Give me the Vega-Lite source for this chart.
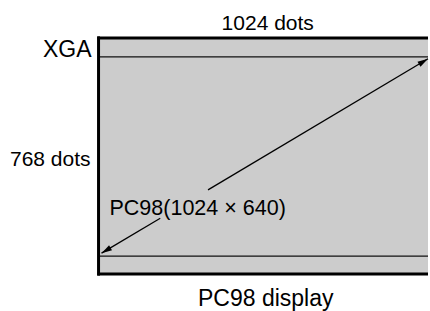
{
  "$schema": "https://vega.github.io/schema/vega-lite/v6.json",
  "autosize": {"type": "fit", "contains": "padding"},
  "width": 430,
  "height": 311,
  "padding": 0,
  "background": "white",
  "config": {"view": {"stroke": null}},
  "datasets": {
    "panel": [{"x": 99, "x2": 430, "y": 38, "y2": 275}],
    "borders": [
      {"part": "left", "x": 99, "x2": 99, "y": 36.5, "y2": 276.5},
      {"part": "top", "x": 98, "x2": 430, "y": 38, "y2": 38},
      {"part": "bottom", "x": 98, "x2": 430, "y": 275, "y2": 275}
    ],
    "inner": [
      {"part": "pc98 top", "x": 100, "x2": 430, "y": 57, "y2": 57},
      {"part": "pc98 bottom", "x": 100, "x2": 430, "y": 257, "y2": 257}
    ],
    "diag": [
      {"seg": "lower", "x": 102, "x2": 161, "y": 254, "y2": 219},
      {"seg": "upper", "x": 209, "x2": 430, "y": 190.5, "y2": 59}
    ],
    "heads": [
      {"end": "upper", "x": 430, "y": 59, "angle": 59.3},
      {"end": "lower", "x": 102, "y": 254, "angle": 239.3}
    ],
    "labels": [
      {"text": "XGA", "x": 92, "y": 57, "pos": "right", "big": 1},
      {"text": "768 dots", "x": 91, "y": 167, "pos": "right", "big": 0},
      {"text": "1024 dots", "x": 269, "y": 30, "pos": "center", "big": 0},
      {"text": "PC98 display", "x": 267, "y": 307, "pos": "center", "big": 1},
      {"text": "PC98(1024 × 640)", "x": 110, "y": 216, "pos": "left", "big": 0}
    ]
  },
  "encoding": {
    "x": {"field": "x", "type": "quantitative", "scale": {"domain": [0, 430], "nice": false, "zero": false}, "axis": null},
    "y": {"field": "y", "type": "quantitative", "scale": {"domain": [0, 311], "nice": false, "zero": false, "reverse": true}, "axis": null}
  },
  "layer": [
    {
      "data": {"name": "panel"},
      "mark": {"type": "rect", "fill": "#cccccc", "stroke": null},
      "encoding": {"x2": {"field": "x2"}, "y2": {"field": "y2"}}
    },
    {
      "data": {"name": "inner"},
      "mark": {"type": "rule", "color": "#111111", "strokeWidth": 1.3},
      "encoding": {"x2": {"field": "x2"}, "y2": {"field": "y2"}}
    },
    {
      "data": {"name": "borders"},
      "mark": {"type": "rule", "color": "#000000", "strokeWidth": 3},
      "encoding": {"x2": {"field": "x2"}, "y2": {"field": "y2"}}
    },
    {
      "data": {"name": "diag"},
      "mark": {"type": "rule", "color": "#000000", "strokeWidth": 1.3},
      "encoding": {"x2": {"field": "x2"}, "y2": {"field": "y2"}}
    },
    {
      "data": {"name": "heads"},
      "mark": {"type": "point", "shape": "M0,0L0.55,2L-0.55,2Z", "filled": true, "color": "#000000", "opacity": 1, "size": 110, "strokeWidth": 0},
      "encoding": {"angle": {"field": "angle", "type": "quantitative", "scale": null}}
    },
    {
      "data": {"name": "labels"},
      "transform": [{"filter": "datum.pos == 'right' && datum.big == 1"}],
      "mark": {"type": "text", "align": "right", "baseline": "alphabetic", "font": "Liberation Sans", "fontSize": 23, "color": "#000000"},
      "encoding": {"text": {"field": "text"}}
    },
    {
      "data": {"name": "labels"},
      "transform": [{"filter": "datum.pos == 'right' && datum.big == 0"}],
      "mark": {"type": "text", "align": "right", "baseline": "alphabetic", "font": "Liberation Sans", "fontSize": 21, "color": "#000000"},
      "encoding": {"text": {"field": "text"}}
    },
    {
      "data": {"name": "labels"},
      "transform": [{"filter": "datum.pos == 'center' && datum.big == 0"}],
      "mark": {"type": "text", "align": "center", "baseline": "alphabetic", "font": "Liberation Sans", "fontSize": 21, "color": "#000000"},
      "encoding": {"text": {"field": "text"}}
    },
    {
      "data": {"name": "labels"},
      "transform": [{"filter": "datum.pos == 'center' && datum.big == 1"}],
      "mark": {"type": "text", "align": "center", "baseline": "alphabetic", "font": "Liberation Sans", "fontSize": 23, "color": "#000000"},
      "encoding": {"text": {"field": "text"}}
    },
    {
      "data": {"name": "labels"},
      "transform": [{"filter": "datum.pos == 'left'"}],
      "mark": {"type": "text", "align": "left", "baseline": "alphabetic", "font": "Liberation Sans", "fontSize": 21.5, "color": "#000000"},
      "encoding": {"text": {"field": "text"}}
    }
  ]
}
